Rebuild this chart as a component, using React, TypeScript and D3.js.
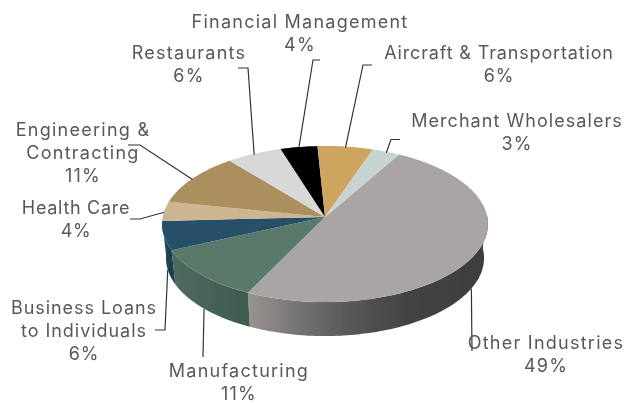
import React from "react";
import * as d3 from "d3";

const categories = ["Other Industries", "Manufacturing", "Business Loans to Individuals", "Health Care", "Engineering & Contracting", "Restaurants", "Financial Management", "Aircraft & Transportation", "Merchant Wholesalers"];
const shares = [49, 11, 6, 4, 11, 6, 4, 6, 3];
const topColors = ["#a9a5a5", "#5a796b", "#275068", "#cdb592", "#ab8f5f", "#d8d8d8", "#000000", "#cda55f", "#c6d3d0"];
const wallFrom = ["#a09c9c", "#4f6b5e", "#1d4759", "#8a7a60", "#7a6640", "#999", "#000", "#8a703f", "#889"];
const wallTo = ["#3e3c3c", "#3f5a4e", "#1a4050", "#8a7a60", "#7a6640", "#999", "#000", "#8a703f", "#889"];

const labelLines = [
  ["Other Industries", "49%"],
  ["Manufacturing", "11%"],
  ["Business Loans", "to Individuals", "6%"],
  ["Health Care", "4%"],
  ["Engineering &", "Contracting", "11%"],
  ["Restaurants", "6%"],
  ["Financial Management", "4%"],
  ["Aircraft & Transportation", "6%"],
  ["Merchant Wholesalers", "3%"],
];
const labelPos = [
  [546, 349], [239, 377], [84, 314], [76, 214], [83, 136], [189, 59], [300, 28], [499, 59], [517, 127],
];
const labelTracking = [1.25, 1.25, 0.95, 0.7, 1.25, 1.25, 1.25, 0.85, 1.05];
const leaderElbows: number[][][] = [
  [[472, 351]],
  [[203, 357]],
  [[155, 330], [165, 330]],
  [[130, 219], [140, 219]],
  [[128, 145], [140, 145]],
  [[238, 68], [248, 68]],
  [[320, 60], [313, 60]],
  [[372, 65], [363, 65]],
  [[400, 139.5], [391, 139.5]],
];

const CX = 325, CY = 217, R = 162.3, A = 77.4, K = 0.0897, DEPTH = 34, BOTTOM_SCALE = 0.976;
const START = (29.5 * Math.PI) / 180;

function rim(t: number): [number, number] {
  const u = Math.sin(t), v = Math.cos(t), w = 1 + K * v;
  return [CX + (R * u) / w, CY - (A * v) / w];
}
function lowRim(t: number): [number, number] {
  const [x, y] = rim(t);
  return [CX + (x - CX) * BOTTOM_SCALE, y + DEPTH];
}

export default function App() {
  const arcs = d3.pie<number>().sort(null).startAngle(START).endAngle(START + 2 * Math.PI)(shares);
  const line = d3.line();
  const samples = (a: number, b: number) => {
    const n = Math.max(2, Math.ceil((b - a) / 0.02));
    return d3.range(n + 1).map((i) => a + ((b - a) * i) / n);
  };
  const isLow = (t: number) => {
    const m = ((t % (2 * Math.PI)) + 2 * Math.PI) % (2 * Math.PI);
    return m > Math.PI / 2 - 0.04 && m < (3 * Math.PI) / 2 - 0.04;
  };
  return (
    <svg width={626} height={403} style={{ position: "absolute", left: 0, top: 0, background: "#fff" }}>
      <defs>
        <filter id="soft" x="-5%" y="-5%" width="110%" height="110%">
          <feGaussianBlur stdDeviation="0.45" />
        </filter>
        {arcs.map((d, i) => {
          const xs = samples(d.startAngle, d.endAngle).filter(isLow).map((t) => rim(t)[0]);
          if (!xs.length) return null;
          const x1 = d3.min(xs)!, x2 = d3.max(xs)!;
          const mix = i === 0
            ? [[0, "#98948f"], [0.18, "#7c7878"], [0.4, "#5c5959"], [0.65, "#454343"], [1, wallTo[0]]]
            : [[0, wallTo[i]], [1, wallFrom[i]]];
          return (
            <linearGradient key={i} id={`wall${i}`} gradientUnits="userSpaceOnUse" x1={i === 0 ? x1 : x2} x2={i === 0 ? x2 : x1} y1={0} y2={0}>
              {mix.map(([o, c], j) => <stop key={j} offset={o as number} stopColor={c as string} />)}
            </linearGradient>
          );
        })}
      </defs>
      <g filter="url(#soft)">
        {arcs.map((d, i) => {
          const ts = samples(d.startAngle, d.endAngle).filter(isLow);
          if (ts.length < 2) return null;
          const top = ts.map(rim);
          const bot = ts.map(lowRim).reverse();
          return <path key={i} d={line([...top, ...bot])! + "Z"} fill={`url(#wall${i})`} />;
        })}
        {arcs.map((d, i) => {
          const pts = samples(d.startAngle, d.endAngle).map(rim);
          return <path key={i} d={line([[CX, CY], ...pts])! + "Z"} fill={topColors[i]} />;
        })}
        {arcs.map((d, i) => {
          const mid = (d.startAngle + d.endAngle) / 2;
          const [x, y] = rim(mid);
          const anchor: [number, number] = isLow(mid) ? lowRim(mid) : [x, y + 1];
          const pts = [...leaderElbows[i], anchor] as [number, number][];
          return <path key={i} d={line(pts)!} fill="none" stroke="#333" strokeWidth={1.2} />;
        })}
        {labelLines.map((lines, i) => (
          <text key={i} textAnchor="middle" fontFamily="Inter, 'Open Sans', sans-serif" fontSize={18} fill="#585858" letterSpacing={labelTracking[i]}>
            {lines.map((s, j) => (
              <tspan key={j} x={labelPos[i][0]} y={labelPos[i][1] + j * 23}>{s}</tspan>
            ))}
          </text>
        ))}
      </g>
    </svg>
  );
}
